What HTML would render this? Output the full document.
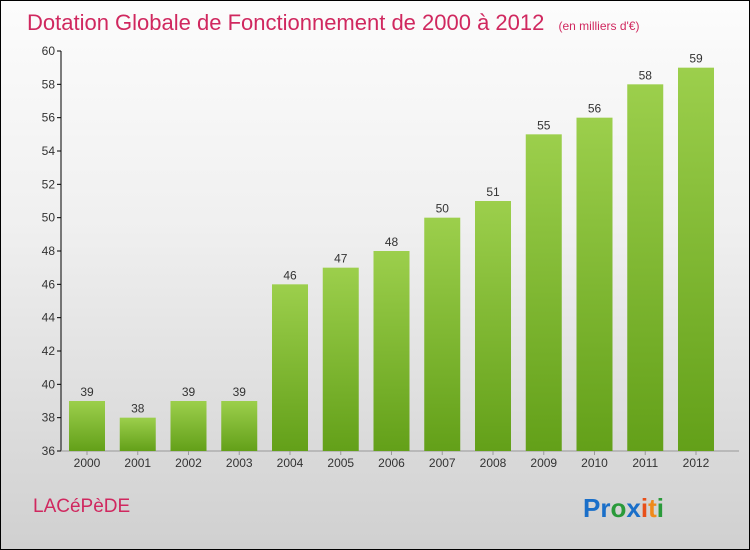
<!DOCTYPE html>
<html><head><meta charset="utf-8"><style>
body{margin:0;}
#c{width:750px;height:550px;position:relative;box-sizing:border-box;border:1px solid #000;background:linear-gradient(#fcfcfc,#f0f0f0 40%,#d0d0d0);font-family:"Liberation Sans",sans-serif;overflow:hidden}
</style></head><body>
<div id="c">
<svg id="s" width="748" height="548" style="position:absolute;left:0;top:0">
<defs><linearGradient id="g" x1="0" y1="0" x2="0" y2="1"><stop offset="0" stop-color="#9ccf4c"/><stop offset="1" stop-color="#63a019"/></linearGradient></defs>
<text x="26" y="29" font-size="22" fill="#d0285f">Dotation Globale de Fonctionnement de 2000 à 2012 <tspan font-size="12" dx="8">(en milliers d'€)</tspan></text>
<text x="32" y="511" font-size="19" fill="#d0285f">LACéPèDE</text>
<text x="582" y="516" font-size="26" font-weight="bold"><tspan fill="#1a6fc9">Pr</tspan><tspan fill="#2a9a3a">o</tspan><tspan fill="#1a6fc9">x</tspan><tspan fill="#e8501a">i</tspan><tspan fill="#f08a1a">t</tspan><tspan fill="#2a9a3a">i</tspan></text>
<g id="plot"></g>
</svg>
</div>
<script>
const years=["2000","2001","2002","2003","2004","2005","2006","2007","2008","2009","2010","2011","2012"];
const values=[39,38,39,39,46,47,48,50,51,55,56,58,59];
const yTicks=[36,38,40,42,44,46,48,50,52,54,56,58,60];
const NS="http://www.w3.org/2000/svg";
const g=document.getElementById('plot');
const y0=450,y1=50,vmin=36,vmax=60,x0=86,step=50.75,bw=36;
const y=v=>y0-(v-vmin)/(vmax-vmin)*(y0-y1);
const x=i=>x0+i*step;
function mk(t,a,p){const e=document.createElementNS(NS,t);for(const k in a)e.setAttribute(k,a[k]);(p||g).appendChild(e);return e;}
let ax=mk('line',{x1:60,y1:y1,x2:60,y2:y0,stroke:'#000','stroke-width':1});


let bx=mk('line',{x1:60,y1:y0,x2:738,y2:y0,stroke:'#999','stroke-width':1});


yTicks.forEach(t=>{
 const l=mk('line',{x1:56,x2:60,y1:y(t),y2:y(t),stroke:'#000'});
 
 
 const tx=mk('text',{x:54,y:y(t)+4,'font-size':12,'text-anchor':'end',fill:'#333'});
 tx.textContent=t;
 
 
});
values.forEach((v,i)=>{
 const r=mk('rect',{x:x(i)-bw/2,y:y(v),width:bw,height:y0-y(v),fill:'url(#g)'});
 
 
 const lb=mk('text',{x:x(i),y:y(v)-5,'font-size':12,'text-anchor':'middle',fill:'#333'});
 lb.textContent=v;
 
 
 const tk=mk('line',{x1:x(i),x2:x(i),y1:y0,y2:y0+4,stroke:'#999'});
 
 
 const xl=mk('text',{x:x(i),y:466,'font-size':12,'text-anchor':'middle',fill:'#333'});
 xl.textContent=years[i];
 
 
});
</script>
</body></html>
